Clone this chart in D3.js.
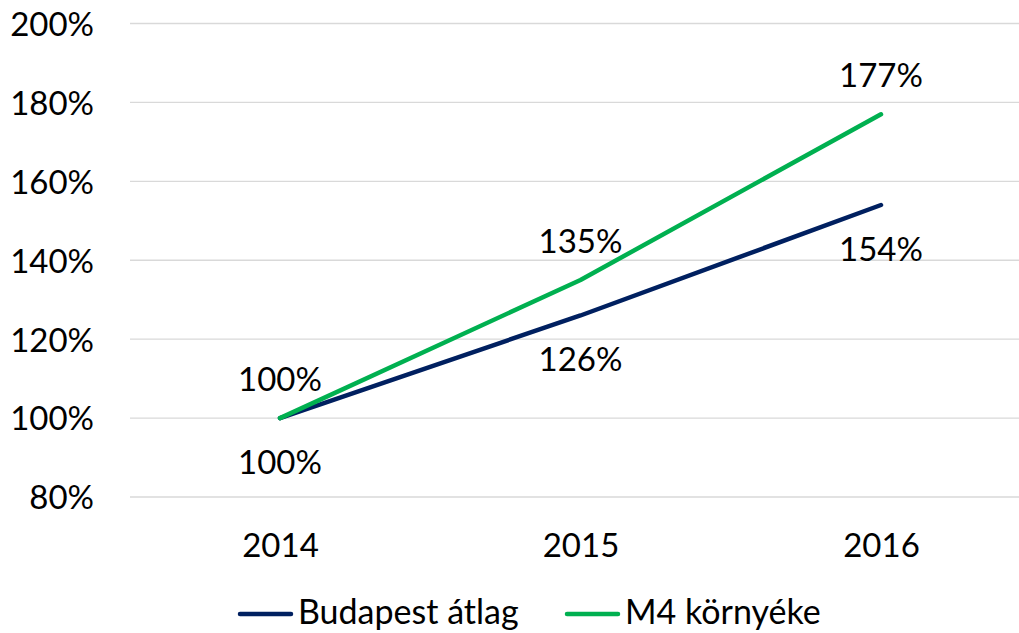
<!DOCTYPE html>
<html><head><meta charset="utf-8">
<script src="https://cdn.jsdelivr.net/npm/d3@7"></script>
<style>body{margin:0;background:#fff}svg{display:block}</style>
</head><body>
<svg id="c" width="1019" height="633"></svg>
<script>
const years = ["2014", "2015", "2016"];
const budapest = [100, 126, 154];
const m4 = [100, 135, 177];
const yTicks = [80, 100, 120, 140, 160, 180, 200];
const seriesNames = ["Budapest átlag", "M4 környéke"];
const colors = ["#002060", "#00B050"];

const svg = d3.select("#c");
const font = "Lato, 'Open Sans', sans-serif";
const fs = 33;
const x = d3.scalePoint().domain(years).range([280, 881]);
const y = d3.scaleLinear().domain([80, 200]).range([497, 23.5]);

// gridlines
svg.append("g").selectAll("line").data(yTicks).join("line")
  .attr("x1", 130).attr("x2", 1019)
  .attr("y1", d => y(d)).attr("y2", d => y(d))
  .attr("stroke", "#d9d9d9").attr("stroke-width", 1.3);

// y axis labels
const yAxis = d3.axisLeft(y).tickValues(yTicks).tickFormat(d => d + "%").tickSize(0).tickPadding(0);
const ga = svg.append("g").attr("transform", "translate(94,0)").call(yAxis);
ga.select(".domain").remove();
ga.selectAll("text").attr("font-family", font).attr("font-size", fs).attr("fill", "#000").attr("dy", "0.36em");

// x axis labels
const xAxis = d3.axisBottom(x).tickSize(0).tickPadding(0);
const gx = svg.append("g").attr("transform", "translate(0,545)").call(xAxis);
gx.select(".domain").remove();
gx.selectAll("text").attr("font-family", font).attr("font-size", fs).attr("fill", "#000").attr("dy", "0.36em").attr("y", 0);

const series = [budapest, m4];
const line = d3.line().x((d, i) => x(years[i])).y(d => y(d));
series.forEach((s, k) => {
  svg.append("path").datum(s).attr("d", line).attr("fill", "none")
    .attr("stroke", colors[k]).attr("stroke-width", 4.5).attr("stroke-linecap", "round").attr("stroke-linejoin", "round");
});

// data labels: Budapest below, M4 above
series.forEach((s, k) => {
  svg.append("g").selectAll("text").data(s).join("text")
    .attr("x", (d, i) => x(years[i]))
    .attr("y", d => y(d) + (k === 0 ? 44 : -39))
    .attr("dy", "0.36em").attr("text-anchor", "middle")
    .attr("font-family", font).attr("font-size", fs).attr("fill", "#000")
    .text(d => d + "%");
});

// legend
const legX = [238, 565];
seriesNames.forEach((n, k) => {
  const g = svg.append("g");
  g.append("line").attr("x1", legX[k] + 2).attr("x2", legX[k] + 53).attr("y1", 614).attr("y2", 614)
    .attr("stroke", colors[k]).attr("stroke-width", 4.5).attr("stroke-linecap", "round");
  g.append("text").attr("x", legX[k] + 60).attr("y", 624)
    .attr("font-family", font).attr("font-size", 34).attr("fill", "#000").text(n);
});
</script>
</body></html>
